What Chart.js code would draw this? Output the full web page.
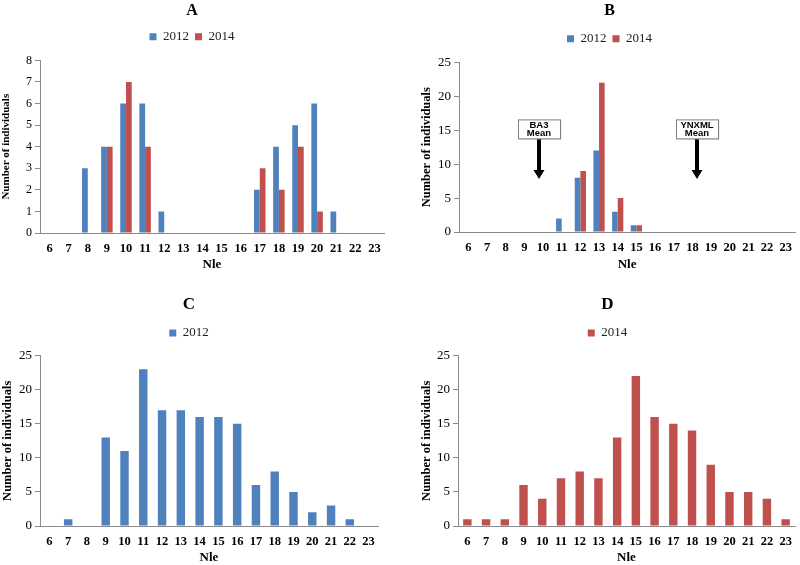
<!DOCTYPE html>
<html>
<head>
<meta charset="utf-8">
<script src="https://cdn.jsdelivr.net/npm/chart.js@4.4.1/dist/chart.umd.min.js"></script>
<style>
  html, body { margin: 0; padding: 0; background: #fff; }
  body { width: 800px; height: 565px; position: relative; overflow: hidden; }
  .panel { position: absolute; }
</style>
</head>
<body>
<div class="panel" id="pA" style="left:0;top:0;width:400px;height:272px"><canvas id="cA"></canvas></div>
<div class="panel" id="pB" style="left:400px;top:0;width:400px;height:272px"><canvas id="cB"></canvas></div>
<div class="panel" id="pC" style="left:0;top:280px;width:400px;height:285px"><canvas id="cC"></canvas></div>
<div class="panel" id="pD" style="left:400px;top:280px;width:400px;height:285px"><canvas id="cD"></canvas></div>
<script>
// ---- Data ----
const nleCategories = ['6','7','8','9','10','11','12','13','14','15','16','17','18','19','20','21','22','23'];

const panelA_2012 = [0,0,3,4,6,6,1,0,0,0,0,2,4,5,6,1,0,0];
const panelA_2014 = [0,0,0,4,7,4,0,0,0,0,0,3,2,4,1,0,0,0];

const panelB_2012 = [0,0,0,0,0,2,8,12,3,1,0,0,0,0,0,0,0,0];
const panelB_2014 = [0,0,0,0,0,0,9,22,5,1,0,0,0,0,0,0,0,0];

const panelC_2012 = [0,1,0,13,11,23,17,17,16,16,15,6,8,5,2,3,1,0];
const panelD_2014 = [1,1,1,6,4,7,8,7,13,22,16,15,14,9,5,5,4,1];

// Mean markers in panel B (x in category index units)
const meanLabels = [['BA3','Mean'], ['YNXML','Mean']];
const meanX = [3.8, 12.25];

const BLUE = '#4F81BD';
const RED = '#C0504D';
const AXIS = '#8a8a8a';
const SERIF = "'Liberation Serif', 'Times New Roman', serif";

function makeChart(id, datasets, opts) {
  const ctx = document.getElementById(id);
  return new Chart(ctx, {
    type: 'bar',
    data: { labels: nleCategories, datasets: datasets },
    options: {
      responsive: true,
      maintainAspectRatio: false,
      animation: false,
      devicePixelRatio: 1,
      layout: { padding: { top: opts.padTop, right: opts.padRight, left: opts.padLeft, bottom: 0 } },
      plugins: {
        title: {
          display: true, text: opts.title, color: '#000',
          font: { family: SERIF, size: opts.titleSize, weight: 'bold' },
          padding: { top: 0, bottom: opts.titleGap }
        },
        subtitle: {
          display: true, text: ' ', weight: 500,
          font: { size: 1 },
          padding: { top: 0, bottom: opts.legendGap }
        },
        legend: {
          display: true, position: 'top',
          labels: {
            color: '#222', boxWidth: 7, boxHeight: 7, padding: 6,
            font: { family: SERIF, size: 13 }
          }
        },
        tooltip: { enabled: false }
      },
      scales: {
        x: {
          grid: { display: false, drawTicks: false },
          border: { display: true, color: AXIS, width: 1 },
          ticks: { color: '#000', padding: 8, font: { family: SERIF, size: 12.5, weight: 'bold' }, maxRotation: 0, autoSkip: false },
          title: { display: true, text: 'Nle', color: '#000', padding: { top: 0, bottom: 0 }, font: { family: SERIF, size: 13, weight: 'bold' } },
          afterFit: (s) => { s.height = opts.xH; }
        },
        y: {
          min: 0, max: opts.yMax,
          grid: { display: true, drawOnChartArea: false, drawTicks: true, tickLength: 5, color: AXIS },
          border: { display: true, color: AXIS, width: 1 },
          ticks: { stepSize: opts.step, color: '#000', padding: 3, font: { family: SERIF, size: opts.yTickSize } },
          title: { display: true, text: 'Number of individuals', color: '#000', padding: { top: 0, bottom: 2 }, font: { family: SERIF, size: opts.yTitleSize, weight: 'bold' } },
          afterFit: (s) => { s.width = opts.yW; }
        }
      }
    },
    plugins: opts.plugins || []
  });
}

const meanPlugin = {
  id: 'meanMarkers',
  afterDatasetsDraw(chart) {
    const ctx = chart.ctx;
    const xs = chart.scales.x, ys = chart.scales.y;
    for (let i = 0; i < meanX.length; i++) {
      const cx = Math.round(xs.getPixelForValue(meanX[i]));
      const boxBottom = ys.getPixelForValue(13.8);
      const tip = ys.getPixelForValue(7.8);
      const bw = 42, bh = 19;
      const bx = cx - bw / 2, by = boxBottom - bh;
      ctx.save();
      ctx.fillStyle = 'rgba(0,0,0,0.12)';
      ctx.fillRect(bx + 1.5, by + 1.5, bw, bh);
      ctx.fillStyle = '#fff';
      ctx.fillRect(bx, by, bw, bh);
      ctx.strokeStyle = '#7f7f7f';
      ctx.lineWidth = 1;
      ctx.strokeRect(bx + 0.5, by + 0.5, bw, bh);
      ctx.fillStyle = '#000';
      ctx.font = "bold 9.5px 'Liberation Sans', Arial, sans-serif";
      ctx.textAlign = 'center';
      ctx.textBaseline = 'middle';
      ctx.fillText(meanLabels[i][0], cx, by + 5.5);
      ctx.fillText(meanLabels[i][1], cx, by + 14);
      const shaftW = 4, headW = 11, headL = 9;
      ctx.fillRect(cx - shaftW / 2, boxBottom + 1, shaftW, tip - headL - boxBottom - 1);
      ctx.beginPath();
      ctx.moveTo(cx - headW / 2, tip - headL);
      ctx.lineTo(cx + headW / 2, tip - headL);
      ctx.lineTo(cx, tip);
      ctx.closePath();
      ctx.fill();
      ctx.restore();
    }
  }
};

const grouped = { barPercentage: 1.0, categoryPercentage: 0.6 };
const single = { barPercentage: 0.45, categoryPercentage: 1.0 };

makeChart('cA', [
  Object.assign({ label: '2012', data: panelA_2012, backgroundColor: BLUE }, grouped),
  Object.assign({ label: '2014', data: panelA_2014, backgroundColor: RED }, grouped)
], { title: 'A', titleSize: 16, yMax: 8, step: 1, yTickSize: 12, yTitleSize: 11, padLeft: 0, yW: 40, padRight: 16, xH: 39, padTop: 1, titleGap: 4, legendGap: 6 });

makeChart('cB', [
  Object.assign({ label: '2012', data: panelB_2012, backgroundColor: BLUE }, grouped),
  Object.assign({ label: '2014', data: panelB_2014, backgroundColor: RED }, grouped)
], { title: 'B', titleSize: 16, yMax: 25, step: 5, yTickSize: 13, yTitleSize: 12.5, padLeft: 19, yW: 40, padRight: 0, xH: 40, padTop: 1, titleGap: 6, legendGap: 6, plugins: [meanPlugin] });

makeChart('cC', [
  Object.assign({ label: '2012', data: panelC_2012, backgroundColor: BLUE }, single)
], { title: 'C', titleSize: 17, yMax: 25, step: 5, yTickSize: 13, yTitleSize: 12.5, padLeft: 0, yW: 40, padRight: 22, xH: 39, padTop: 14, titleGap: 6, legendGap: 5 });

makeChart('cD', [
  Object.assign({ label: '2014', data: panelD_2014, backgroundColor: RED }, single)
], { title: 'D', titleSize: 17, yMax: 25, step: 5, yTickSize: 13, yTitleSize: 12.5, padLeft: 19, yW: 39, padRight: 4, xH: 39, padTop: 14, titleGap: 6, legendGap: 5 });
</script>
</body>
</html>
